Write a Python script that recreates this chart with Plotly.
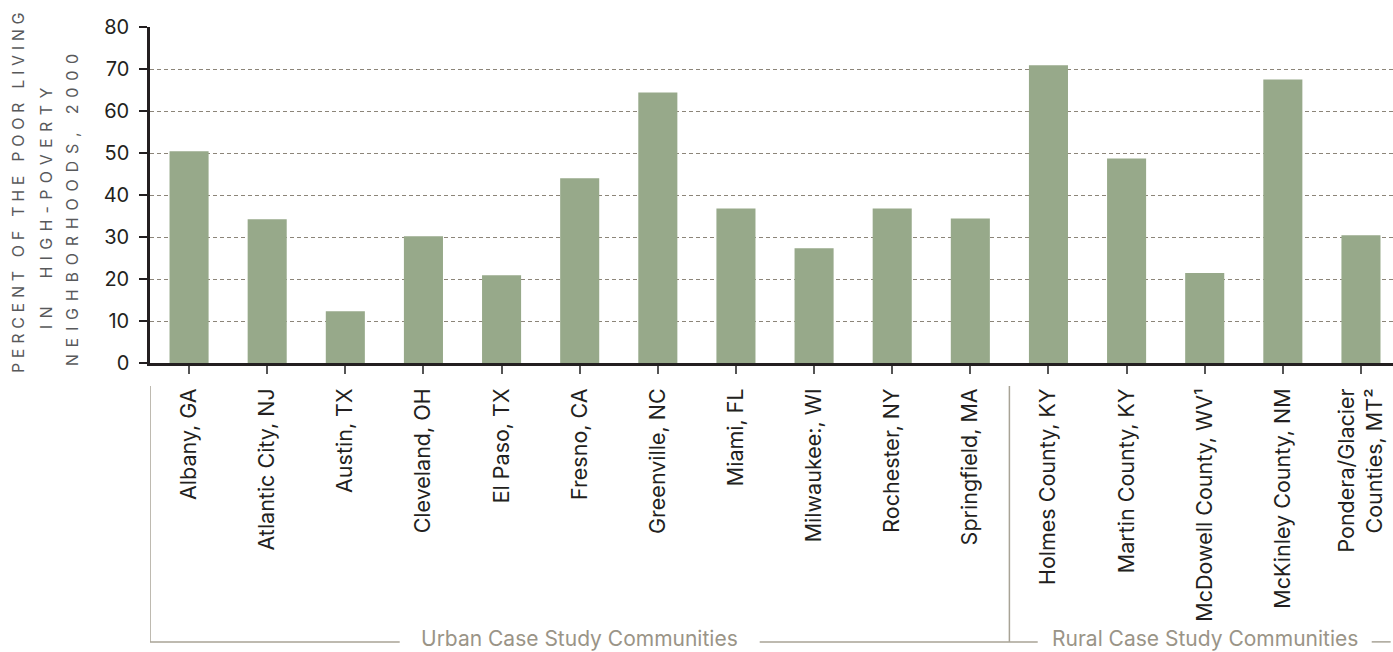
import plotly.graph_objects as go

# Share of the poor living in high-poverty neighborhoods, 2000
communities = [
    "Albany, GA", "Atlantic City, NJ", "Austin, TX", "Cleveland, OH", "El Paso, TX",
    "Fresno, CA", "Greenville, NC", "Miami, FL", "Milwaukee:, WI", "Rochester, NY",
    "Springfield, MA", "Holmes County, KY", "Martin County, KY", "McDowell County, WV¹",
    "McKinley County, NM", "Pondera/Glacier<br>Counties, MT²",
]
pct_poor = [50.4, 34.2, 12.3, 30.2, 20.9, 44.0, 64.4, 36.8, 27.3, 36.8, 34.4,
            70.9, 48.7, 21.4, 67.5, 30.4]

groups = ["Urban Case Study Communities", "Rural Case Study Communities"]
group_sizes = [11, 5]
group_gap_px = [180, 167]  # half-width of the gap left in the bracket line for the label

y_title_lines = ["PERCENT OF THE POOR LIVING", "IN  HIGH-POVERTY", "NEIGHBORHOODS, 2000"]

FONT = "Inter, Liberation Sans, Arial, sans-serif"
DARK = "#231f20"
BAR = "#97a98a"
BRACKET_LINE = "#a8a396"
BRACKET_TEXT = "#9a9487"

idx = list(range(len(communities)))

fig = go.Figure()
fig.add_trace(go.Bar(
    x=idx, y=pct_poor, marker_color=BAR, marker_line_width=0, width=0.5,
))

x_end = 15.41  # right edge of the visible plot (last slot is cut off)
slot_px = (1393 - 150) / (x_end + 0.5)

fig.update_layout(
    width=1393, height=652,
    margin=dict(l=150, r=0, t=27, b=289),
    plot_bgcolor="white", paper_bgcolor="white",
    showlegend=False,
    font=dict(family=FONT, color=DARK),
    xaxis=dict(
        range=[-0.5, x_end],
        tickmode="array", tickvals=idx, ticktext=communities,
        tickangle=-90, tickfont=dict(size=21.5, color=DARK),
        ticks="outside", tickson="boundaries", ticklen=8, tickwidth=1.5,
        tickcolor="#555555", ticklabelstandoff=6,
        showline=True, linecolor=DARK, linewidth=2.5,
        showgrid=False, zeroline=False,
    ),
    yaxis=dict(
        range=[0, 80], dtick=10,
        tickfont=dict(size=20, color=DARK),
        ticks="outside", ticklen=8, tickwidth=1.5, tickcolor=DARK,
        ticklabelstandoff=6,
        showline=True, linecolor=DARK, linewidth=2.5,
        showgrid=True, gridcolor="#8c8579", gridwidth=1, griddash="4px,3px",
        zeroline=False,
    ),
)

# y-axis title: one rotated annotation per line (letter-spaced in post_script)
title_x_px = [18, 46, 72]
title_y = [0.512, 0.468, 0.465]
for line, xp, yp in zip(y_title_lines, title_x_px, title_y):
    fig.add_annotation(
        text=line, xref="paper", yref="paper",
        x=(xp - 150) / 1243, y=yp, xanchor="center", yanchor="middle",
        textangle=-90, showarrow=False,
        font=dict(size=16, color="#58595b", family=FONT),
    )

# group brackets under the labels
y_top, y_bot = -0.0685, -0.830
y_text = -0.821
line_style = dict(color=BRACKET_LINE, width=1.5)
start = -0.5
segments = []
seg_from = -0.5
for name, n, gap in zip(groups, group_sizes, group_gap_px):
    end = start + n
    mid = (start + end) / 2
    fig.add_shape(type="line", xref="x", yref="paper", x0=start, x1=start,
                  y0=y_top, y1=y_bot, line=line_style)
    fig.add_annotation(
        text=name, xref="x", yref="paper", x=mid, y=y_text,
        xanchor="center", yanchor="middle", showarrow=False,
        font=dict(size=21, color=BRACKET_TEXT, family=FONT),
    )
    segments.append((seg_from, mid - gap / slot_px))
    seg_from = mid + gap / slot_px
    start = end
segments.append((seg_from, x_end - 0.03))
for x0, x1 in segments:
    fig.add_shape(type="line", xref="x", yref="paper", x0=x0, x1=x1,
                  y0=y_bot, y1=y_bot, line=line_style)

post = """
var gd = document.getElementById('{plot_id}');
document.body.style.margin = '0';
var titleSpacing = [['PERCENT', '4.7px'], ['IN ', '6.3px'], ['NEIGHBORHOODS', '6.8px']];
function spaceTitle() {
  gd.querySelectorAll('.annotation-text').forEach(function (t) {
    titleSpacing.forEach(function (s) {
      if (t.textContent.indexOf(s[0]) === 0) { t.style.letterSpacing = s[1]; }
    });
  });
}
spaceTitle();
gd.on('plotly_afterplot', spaceTitle);
"""

fig.write_html("out.html", post_script=post, config={"displayModeBar": False})
